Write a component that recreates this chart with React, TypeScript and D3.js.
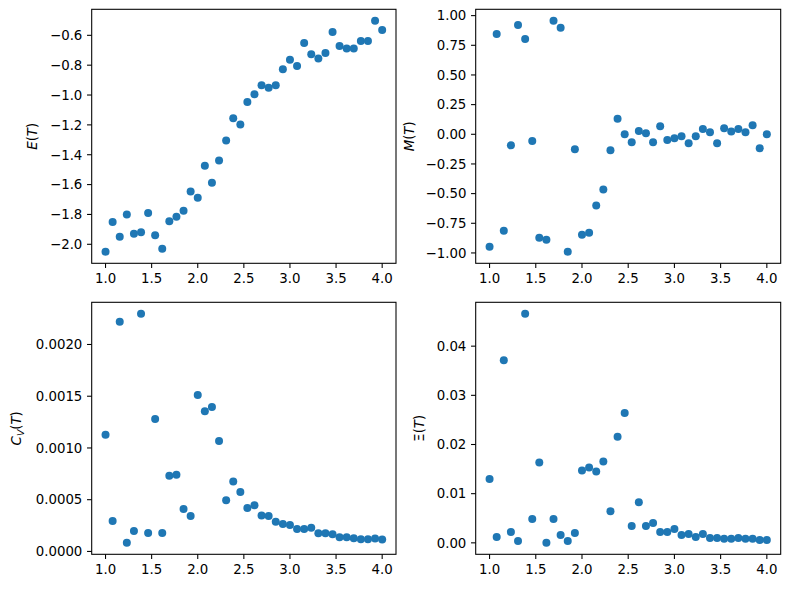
import * as d3 from "d3"

// temperatures: 40 evenly spaced samples from 1.0 to 4.0
const temps = [
  1.0, 1.077, 1.154, 1.231, 1.308, 1.385, 1.462, 1.538, 1.615, 1.692,
  1.769, 1.846, 1.923, 2.0, 2.077, 2.154, 2.231, 2.308, 2.385, 2.462,
  2.538, 2.615, 2.692, 2.769, 2.846, 2.923, 3.0, 3.077, 3.154, 3.231,
  3.308, 3.385, 3.462, 3.538, 3.615, 3.692, 3.769, 3.846, 3.923, 4.0,
]

const energy = [
  -2.05, -1.85, -1.95, -1.8, -1.93, -1.92, -1.79, -1.94, -2.03, -1.845,
  -1.816, -1.776, -1.646, -1.688, -1.473, -1.587, -1.439, -1.305, -1.156, -1.197,
  -1.046, -0.995, -0.934, -0.952, -0.934, -0.827, -0.764, -0.806, -0.652, -0.726,
  -0.755, -0.719, -0.578, -0.672, -0.688, -0.688, -0.638, -0.638, -0.503, -0.564,
]

const magnet = [
  -0.948, 0.846, -0.812, -0.093, 0.922, 0.804, -0.056, -0.871, -0.889, 0.956,
  0.897, -0.99, -0.127, -0.846, -0.829, -0.601, -0.465, -0.135, 0.13, 0.0,
  -0.068, 0.028, 0.008, -0.068, 0.068, -0.048, -0.034, -0.017, -0.076, -0.017,
  0.045, 0.017, -0.076, 0.051, 0.023, 0.045, 0.017, 0.076, -0.118, 0.0,
]

const heatCap = [
  0.001128, 0.000294, 0.00222, 0.000083, 0.000198, 0.002297, 0.000179, 0.001281, 0.000179, 0.000732,
  0.000741, 0.000409, 0.000342, 0.001511, 0.001355, 0.001396, 0.001067, 0.000495, 0.000677, 0.000575,
  0.000419, 0.000447, 0.000348, 0.000342, 0.000288, 0.000265, 0.000256, 0.000217, 0.000217, 0.00023,
  0.000176, 0.000176, 0.000166, 0.000137, 0.000137, 0.000128, 0.000118, 0.000118, 0.000125, 0.000115,
]

const suscept = [
  0.01297, 0.00121, 0.03711, 0.00222, 0.0004, 0.04659, 0.00484, 0.01634, 0.0, 0.00484,
  0.00161, 0.0004, 0.00202, 0.01472, 0.01533, 0.01452, 0.01654, 0.00645, 0.02158, 0.02642,
  0.00343, 0.00827, 0.00343, 0.00403, 0.00222, 0.00222, 0.00282, 0.00161, 0.00182, 0.00121,
  0.00182, 0.00101, 0.00101, 0.00081, 0.00081, 0.00101, 0.00081, 0.00081, 0.0006, 0.0006,
]

// tick labels
const xTicks = [1.0, 1.5, 2.0, 2.5, 3.0, 3.5, 4.0]
const eTicks = [-2.0, -1.8, -1.6, -1.4, -1.2, -1.0, -0.8, -0.6]
const mTicks = [-1.0, -0.75, -0.5, -0.25, 0.0, 0.25, 0.5, 0.75, 1.0]
const cTicks = [0.0, 0.0005, 0.001, 0.0015, 0.002]
const xiTicks = [0.0, 0.01, 0.02, 0.03, 0.04]

const FONT = "DejaVu Sans, sans-serif"
const FS = 13.33
const TICK = 4.67
const PAD = 4.67
const BLUE = "#1f77b4"

type PanelProps = {
  x0: number
  x1: number
  y0: number
  y1: number
  values: number[]
  yTicks: number[]
  fmt: string
  label: React.ReactNode
  labelX: number
}

function padded(vals: number[]): [number, number] {
  const [lo, hi] = d3.extent(vals) as [number, number]
  const m = (hi - lo) * 0.05
  return [lo - m, hi + m]
}

function Panel({ x0, x1, y0, y1, values, yTicks, fmt, label, labelX }: PanelProps) {
  const x = d3.scaleLinear().domain(padded(temps)).range([x0, x1])
  const y = d3.scaleLinear().domain(padded(values)).range([y1, y0])
  const xf = d3.format(".1f")
  const yf = d3.format(fmt)
  const cy = (y0 + y1) / 2

  return (
    <g>
      {values.map((v, i) => (
        <circle key={i} cx={x(temps[i])} cy={y(v)} r={4} fill={BLUE} />
      ))}
      <rect x={x0} y={y0} width={x1 - x0} height={y1 - y0} fill="none" stroke="#000" strokeWidth={1.07} />
      {xTicks.map((t) => (
        <g key={t}>
          <line x1={x(t)} x2={x(t)} y1={y1} y2={y1 + TICK} stroke="#000" strokeWidth={1.07} />
          <text x={x(t)} y={y1 + TICK + PAD} dy="0.76em" textAnchor="middle" fontSize={FS} fontFamily={FONT}>
            {xf(t)}
          </text>
        </g>
      ))}
      {yTicks.map((t) => (
        <g key={t}>
          <line x1={x0 - TICK} x2={x0} y1={y(t)} y2={y(t)} stroke="#000" strokeWidth={1.07} />
          <text x={x0 - TICK - PAD} y={y(t)} dy="0.36em" textAnchor="end" fontSize={FS} fontFamily={FONT}>
            {yf(t)}
          </text>
        </g>
      ))}
      <text
        transform={`translate(${labelX},${cy}) rotate(-90)`}
        textAnchor="middle"
        fontSize={FS}
        fontFamily={FONT}
      >
        {label}
      </text>
    </g>
  )
}

export default function App() {
  const L = [91.7, 396]
  const R = [475.7, 780.7]
  const T = [9.3, 263.3]
  const B = [302.3, 554.3]

  return (
    <svg width={790} height={589} style={{ display: "block", position: "absolute", left: 0, top: 0 }}>
      <rect width={790} height={589} fill="#fff" />
      <Panel
        x0={L[0]} x1={L[1]} y0={T[0]} y1={T[1]}
        values={energy} yTicks={eTicks} fmt=".1f" labelX={37}
        label={<><tspan fontStyle="italic">E</tspan>(<tspan fontStyle="italic">T</tspan>)</>}
      />
      <Panel
        x0={R[0]} x1={R[1]} y0={T[0]} y1={T[1]}
        values={magnet} yTicks={mTicks} fmt=".2f" labelX={414}
        label={<><tspan fontStyle="italic">M</tspan>(<tspan fontStyle="italic">T</tspan>)</>}
      />
      <Panel
        x0={L[0]} x1={L[1]} y0={B[0]} y1={B[1]}
        values={heatCap} yTicks={cTicks} fmt=".4f" labelX={21}
        label={
          <>
            <tspan fontStyle="italic">C</tspan>
            <tspan fontStyle="italic" fontSize={FS * 0.7} dy={2.5}>V</tspan>
            <tspan dy={-2.5}>(</tspan>
            <tspan fontStyle="italic">T</tspan>)
          </>
        }
      />
      <Panel
        x0={R[0]} x1={R[1]} y0={B[0]} y1={B[1]}
        values={suscept} yTicks={xiTicks} fmt=".2f" labelX={424}
        label={<>Ξ(<tspan fontStyle="italic">T</tspan>)</>}
      />
    </svg>
  )
}
